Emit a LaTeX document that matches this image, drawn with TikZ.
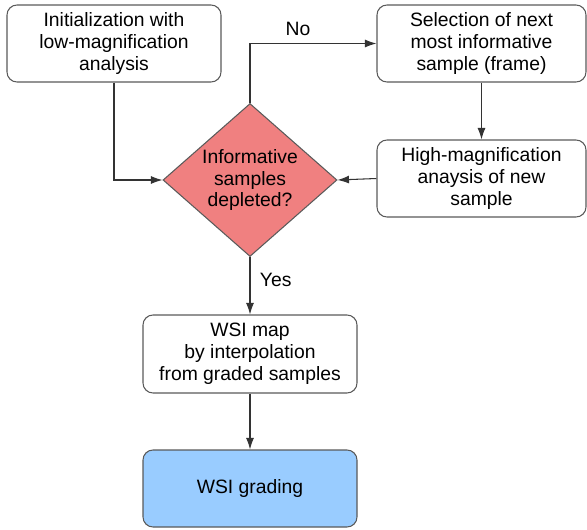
\documentclass[tikz,border=0pt]{standalone}
\usepackage{fontspec}
\setmainfont{Liberation Sans}
\usetikzlibrary{shapes.geometric,arrows.meta}
\definecolor{kasten}{RGB}{90,90,90}
\definecolor{rauten}{RGB}{240,128,128}
\definecolor{ziel}{RGB}{153,204,255}
\begin{document}
\begin{tikzpicture}[
	box/.style={draw=kasten, line width=0.6pt, rounded corners=0.2cm, fill=white, align=center,
		minimum width=4.28cm, minimum height=1.54cm, inner sep=0pt, font=\fontsize{11}{12.5}\selectfont},
	decision/.style={draw=kasten, line width=0.6pt, diamond, aspect=1.14, fill=rauten, align=center,
		minimum width=3.48cm, minimum height=3.06cm, inner sep=0pt, font=\fontsize{11}{12.5}\selectfont},
	arrow/.style={line width=0.6pt, draw=black!80, -{Latex[length=2.3mm,width=1.6mm]}}]
	\useasboundingbox (0,0) rectangle (11.74,10.58);

	\node[box] (init) at (2.28,9.71) {Initialization with\\low-magnification\\analysis};%Start
	\node[box, minimum width=4.18cm] (select) at (9.63,9.71) {Selection of next\\most informative\\sample (frame)};
	\node[box, minimum width=4.18cm] (highmag) at (9.63,7.01) {High-magnification\\anaysis of new\\sample};
	\node[decision] (depleted) at (5.0,6.98) {Informative\\samples\\depleted?};%Raute
	\node[box, minimum height=1.56cm] (wsimap) at (5.0,3.5) {WSI map\\by interpolation\\from graded samples};
	\node[box, fill=ziel] (grading) at (5.0,0.81) {WSI grading};%Ende

	\draw[arrow] (init.south) |- (depleted.west);
	\draw[arrow] (depleted.north) |- node[pos=0.69, above=1pt, font=\fontsize{11}{12.5}\selectfont] {No} (select.west);
	\draw[arrow] (select.south) -- (highmag.north);
	\draw[arrow] (highmag.west) -- (depleted.east);
	\draw[arrow] (depleted.south) -- node[right=2pt, pos=0.4, font=\fontsize{11}{12.5}\selectfont] {Yes} (wsimap.north);
	\draw[arrow] (wsimap.south) -- (grading.north);
\end{tikzpicture}
\end{document}
